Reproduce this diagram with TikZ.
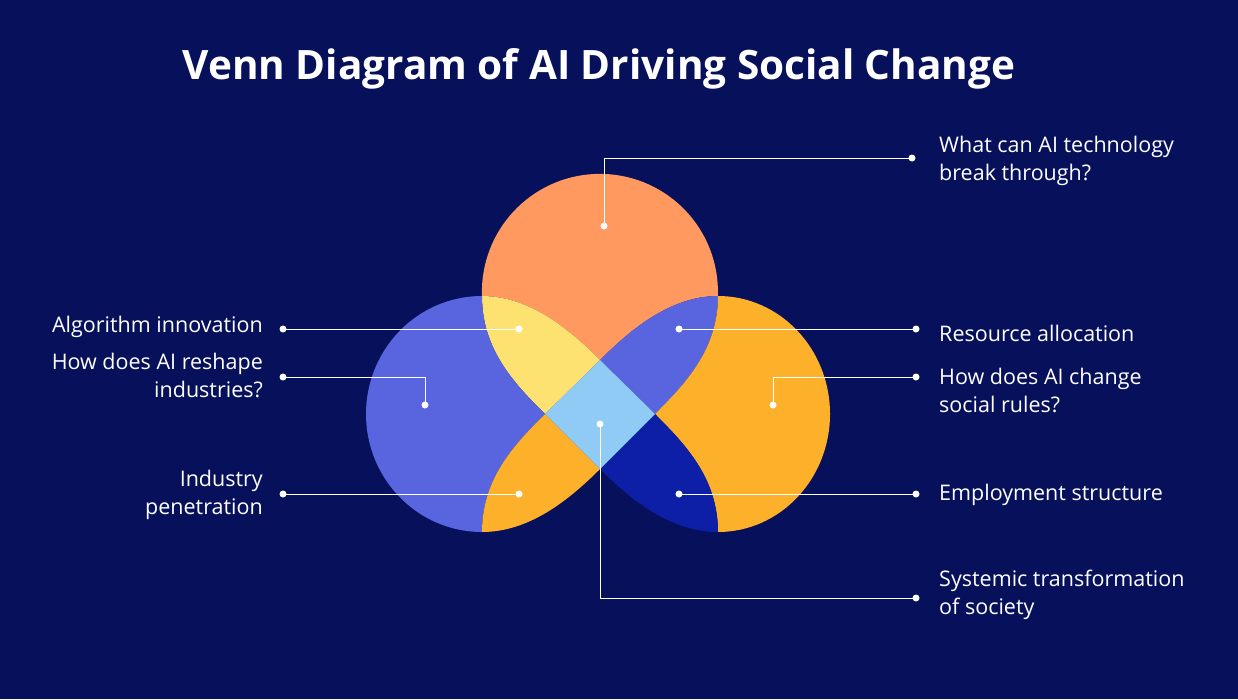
\documentclass[tikz,border=0pt]{standalone}
\usepackage{fontspec}
\setmainfont{Open Sans}
\begin{document}
\begin{tikzpicture}[x=1pt,y=-1pt,
  lbl/.style={text=white,font=\fontsize{21.5}{28}\selectfont,inner sep=0pt,align=left},
  lblr/.style={lbl,align=right},
  dot/.style={circle,fill=white,inner sep=0pt,minimum size=7pt},
  lead/.style={draw=white,line width=0.9pt}]
\definecolor{bg}{HTML}{07105A}
\definecolor{topo}{HTML}{FF9960}
\definecolor{yel}{HTML}{FDE272}
\definecolor{blu}{HTML}{5865DE}
\definecolor{ltb}{HTML}{8FCBF5}
\definecolor{org}{HTML}{FDB12A}
\definecolor{dbl}{HTML}{0C1FA6}
\fill[bg] (0,0) rectangle (1238,699);
\useasboundingbox (0,0) rectangle (1238,699);
\node[text=white,font=\bfseries\fontsize{40.5}{44}\selectfont] (title) at (599,69) {Venn Diagram of AI Driving Social Change};
% key points
\coordinate (A) at (482,296); \coordinate (B) at (718,296);
\coordinate (C) at (482,532); \coordinate (D) at (718,532);
\coordinate (T) at (600,360); \coordinate (L) at (545,414);
\coordinate (R) at (655,414); \coordinate (Bo) at (600,469);
% top orange
\fill[topo] (A) arc[start angle=182,end angle=-2,x radius=118,y radius=-118] -- (B)
  .. controls (670,296) and (630,330) .. (T) .. controls (570,330) and (530,296) .. (A) -- cycle;
% yellow
\fill[yel] (A) .. controls (530,296) and (570,330) .. (T) -- (L) .. controls (515,384) and (482,350) .. (A) -- cycle;
% blue top-right
\fill[blu] (B) .. controls (670,296) and (630,330) .. (T) -- (R) .. controls (685,384) and (718,350) .. (B) -- cycle;
% left blue
\fill[blu] (A) arc[start angle=90,end angle=270,x radius=116,y radius=-118] -- (C)
  .. controls (482,478) and (515,444) .. (L) .. controls (515,384) and (482,350) .. (A) -- cycle;
% right orange
\fill[org] (B) arc[start angle=90,end angle=-90,x radius=112,y radius=-118] -- (D)
  .. controls (718,478) and (685,444) .. (R) .. controls (685,384) and (718,350) .. (B) -- cycle;
% bottom-left orange
\fill[org] (L) -- (Bo) .. controls (570,499) and (530,532) .. (C) .. controls (482,478) and (515,444) .. (L) -- cycle;
% dark blue
\fill[dbl] (R) -- (Bo) .. controls (630,499) and (670,532) .. (D) .. controls (718,478) and (685,444) .. (R) -- cycle;
% diamond
\fill[ltb] (T) -- (R) -- (Bo) -- (L) -- cycle;
% dots
\node[dot] (p1) at (604,226) {}; \node[dot] (q1) at (912,158) {};
\node[dot] (p2) at (519,329) {}; \node[dot] (q2) at (283,329) {};
\node[dot] (p3) at (425,405) {}; \node[dot] (q3) at (283,377) {};
\node[dot] (p4) at (519,494) {}; \node[dot] (q4) at (283,494) {};
\node[dot] (p5) at (679,329) {}; \node[dot] (q5) at (916,329) {};
\node[dot] (p6) at (773,405) {}; \node[dot] (q6) at (916,377) {};
\node[dot] (p7) at (679,494) {}; \node[dot] (q7) at (916,494) {};
\node[dot] (p8) at (600,424) {}; \node[dot] (q8) at (916,598) {};
\draw[lead] (p1.center) |- (q1.center);
\draw[lead] (p2.center) -- (q2.center);
\draw[lead] (p3.center) |- (q3.center);
\draw[lead] (p4.center) -- (q4.center);
\draw[lead] (p5.center) -- (q5.center);
\draw[lead] (p6.center) |- (q6.center);
\draw[lead] (p7.center) -- (q7.center);
\draw[lead] (p8.center) |- (q8.center);
% labels
\node[lbl,anchor=west] (t1) at (939,161) {What can AI technology\\break through?};
\node[lblr,anchor=east] (t2) at (263,327) {Algorithm innovation};
\node[lblr,anchor=east] (t3) at (263,375) {How does AI reshape\\industries?};
\node[lblr,anchor=east] (t4) at (263,495) {Industry\\penetration};
\node[lbl,anchor=west] (t5) at (939,333) {Resource allocation};
\node[lbl,anchor=west] (t6) at (939,390) {How does AI change\\social rules?};
\node[lbl,anchor=west] (t7) at (939,495) {Employment structure};
\node[lbl,anchor=west] (t8) at (939,595) {Systemic transformation\\of society};
\end{tikzpicture}
\end{document}
